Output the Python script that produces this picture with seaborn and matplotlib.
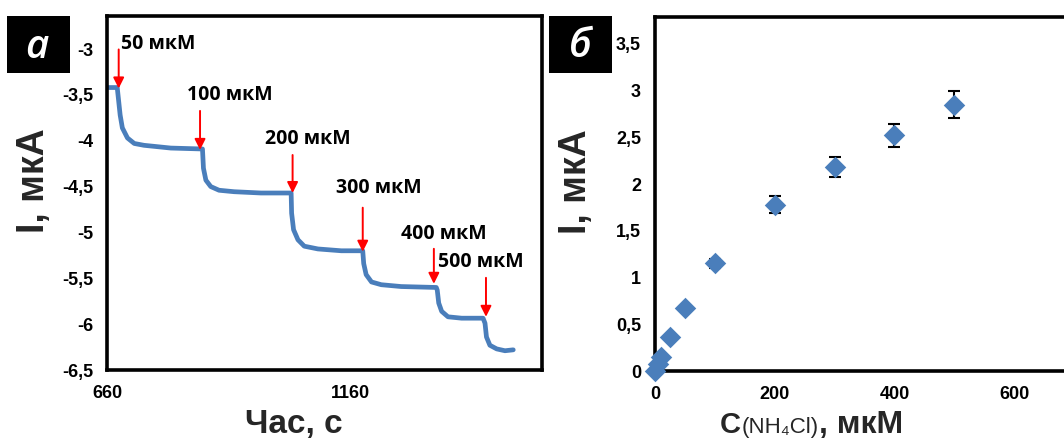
import numpy as np
import pandas as pd
import matplotlib
matplotlib.use("Agg")
import matplotlib.pyplot as plt
import seaborn as sns
from matplotlib.ticker import FuncFormatter, FixedLocator
from matplotlib.patches import Rectangle

# ---------------- data: panel a (amperometric trace) ----------------
time_s = [660, 681, 687, 691.5, 702, 716, 736, 791,
          856, 858, 863, 873, 890, 921, 976, 1038,
          1039, 1043, 1052, 1065, 1093, 1141, 1185,
          1187, 1192, 1203, 1223, 1264, 1336,
          1338, 1341, 1347, 1360, 1388, 1432,
          1436, 1439, 1446, 1460, 1477, 1494]
current_uA = [-3.42, -3.42, -3.72, -3.86, -3.97, -4.03, -4.05, -4.08,
              -4.09, -4.30, -4.43, -4.50, -4.54, -4.556, -4.57, -4.57,
              -4.79, -4.97, -5.08, -5.15, -5.18, -5.20, -5.20,
              -5.34, -5.46, -5.54, -5.57, -5.59, -5.60,
              -5.63, -5.77, -5.86, -5.92, -5.935, -5.935,
              -5.99, -6.14, -6.23, -6.27, -6.29, -6.28]

injection_times = [684, 851, 1041, 1185, 1331, 1438]
injection_currents = [-3.43, -4.10, -4.57, -5.21, -5.56, -5.92]
injection_labels = ["50 мкМ", "100 мкМ", "200 мкМ", "300 мкМ", "400 мкМ", "500 мкМ"]

left_xticks = [660, 1160]
left_yticks = [-6.5, -6, -5.5, -5, -4.5, -4, -3.5, -3]

# ---------------- data: panel b (calibration) ----------------
conc_uM = [0, 5, 10, 25, 50, 100, 200, 300, 400, 500]
signal_uA = [0.0, 0.07, 0.15, 0.36, 0.67, 1.15, 1.78, 2.18, 2.52, 2.85]
signal_err = [0.0, 0.0, 0.0, 0.0, 0.0, 0.05, 0.09, 0.11, 0.12, 0.14]

right_xticks = [0, 200, 400, 600]
right_yticks = [0, 0.5, 1, 1.5, 2, 2.5, 3, 3.5]

# ---------------- style ----------------
sns.set_style("white")
plt.rcParams['font.family'] = ['Liberation Sans', 'DejaVu Sans']

BLUE = "#4a7ebb"
W, H = 1064, 442
fig = plt.figure(figsize=(W / 100, H / 100), dpi=100)

def comma_fmt(v, pos):
    return f"{v:g}".replace('.', ',')

def frac_box(l, t, r, b):
    return [l / W, 1 - b / H, (r - l) / W, (b - t) / H]

ax1 = fig.add_axes(frac_box(107, 16, 542, 370))
ax2 = fig.add_axes(frac_box(655, 16.7, 1074, 371))

tick_font = dict(family=['Liberation Sans', 'DejaVu Sans'], weight='bold', size=13)

for ax in (ax1, ax2):
    for sp in ax.spines.values():
        sp.set_visible(True)
        sp.set_color('black')
        sp.set_linewidth(2.6)
    ax.tick_params(axis='both', direction='out', length=4, width=1,
                   color='#a0a0a0', labelcolor='black')
    ax.tick_params(axis='y', pad=6)
    ax.tick_params(axis='x', pad=7)
    ax.grid(False)

# ---- panel a ----
df_a = pd.DataFrame({"t": time_s, "I": current_uA})
sns.lineplot(data=df_a, x="t", y="I", ax=ax1, color=BLUE, linewidth=3.4,
             sort=False, estimator=None)
ax1.set_xlim(660, 1553)
ax1.set_ylim(-6.5, -2.64)
ax1.xaxis.set_major_locator(FixedLocator(left_xticks))
ax1.yaxis.set_major_locator(FixedLocator(left_yticks))
ax1.yaxis.set_major_formatter(FuncFormatter(comma_fmt))
ax1.xaxis.set_major_formatter(FuncFormatter(comma_fmt))
ax1.set_xlabel("")
ax1.set_ylabel("")
for lab in ax1.get_xticklabels() + ax1.get_yticklabels():
    lab.set_fontproperties(matplotlib.font_manager.FontProperties(**tick_font))

arrow_len = [39, 39, 38, 44, 35, 39]
text_off = [(2, 44), (-13, 55), (-28, 54), (-27, 64), (-33, 50), (-48, 55)]
for t, i, lab, L, (dx, dy) in zip(injection_times, injection_currents,
                                  injection_labels, arrow_len, text_off):
    ax1.annotate("", xy=(t, i), xytext=(0, L), textcoords='offset pixels',
                 arrowprops=dict(arrowstyle='-|>', color='#ff0000', lw=1.4,
                                 mutation_scale=16, shrinkA=0, shrinkB=0))
    ax1.annotate(lab, xy=(t, i), xytext=(dx, dy), textcoords='offset pixels',
                 ha='left', va='center', fontsize=14, fontweight='bold',
                 family=['Open Sans', 'DejaVu Sans'], color='black')

# ---- panel b ----
ax2.errorbar(conc_uM, signal_uA, yerr=signal_err, fmt='none', ecolor='black',
             elinewidth=1.5, capsize=4, capthick=1.5, zorder=2)
df_b = pd.DataFrame({"c": conc_uM, "I": signal_uA})
sns.scatterplot(data=df_b, x="c", y="I", ax=ax2, marker='D', s=120,
                color=BLUE, edgecolor=BLUE, linewidth=0, zorder=3)
ax2.set_xlim(0, 700)
ax2.set_ylim(0, 3.79)
ax2.xaxis.set_major_locator(FixedLocator(right_xticks))
ax2.yaxis.set_major_locator(FixedLocator(right_yticks))
ax2.yaxis.set_major_formatter(FuncFormatter(comma_fmt))
ax2.xaxis.set_major_formatter(FuncFormatter(comma_fmt))
ax2.set_xlabel("")
ax2.set_ylabel("")
for lab in ax2.get_xticklabels() + ax2.get_yticklabels():
    lab.set_fontproperties(matplotlib.font_manager.FontProperties(**tick_font))
for c in ax2.collections:
    c.set_clip_on(False)

# ---- axis titles ----
lab_font = ['Liberation Sans', 'DejaVu Sans']
fig.text(34 / W, 1 - 181 / H, "I, мкА", rotation=90, ha='center', va='center',
         fontsize=27, fontweight='bold', family=lab_font)
fig.text(576 / W, 1 - 182 / H, "I, мкА", rotation=90, ha='center', va='center',
         fontsize=27, fontweight='bold', family=lab_font)
fig.text(293.5 / W, 1 - 433 / H, "Час, с", ha='center', va='baseline',
         fontsize=24, fontweight='bold', family=lab_font)

# composite label C(NH4Cl), мкМ
fig.canvas.draw()
rend = fig.canvas.get_renderer()
yb = 1 - 433 / H
t1 = fig.text(720 / W, yb, "C", ha='left', va='baseline', fontsize=21,
              fontweight='bold', family=lab_font)
x1 = t1.get_window_extent(rend).x1
t2 = fig.text(x1 / W + 1 / W, yb, "(NH₄Cl)", ha='left', va='baseline', fontsize=16,
              family=lab_font)
x2 = t2.get_window_extent(rend).x1
fig.text(x2 / W, yb, ", мкМ", ha='left', va='baseline', fontsize=23,
         fontweight='bold', family=lab_font)

# ---- panel letters ----
for (l, t, r, b), letter, (cx, cy) in [((7, 16, 70, 73), "а", (37, 48)),
                                       ((549, 16, 612, 73), "б", (580, 47))]:
    fig.patches.append(Rectangle((l / W, 1 - b / H), (r - l) / W, (b - t) / H,
                                 transform=fig.transFigure, facecolor='black',
                                 edgecolor='none', zorder=5))
    fig.text(cx / W, 1 - cy / H, letter, ha='center', va='center', fontsize=29,
             style='italic', fontweight='semibold', color='white',
             family=['Open Sans', 'DejaVu Sans'], zorder=6)

fig.savefig("out.png", dpi=100)
